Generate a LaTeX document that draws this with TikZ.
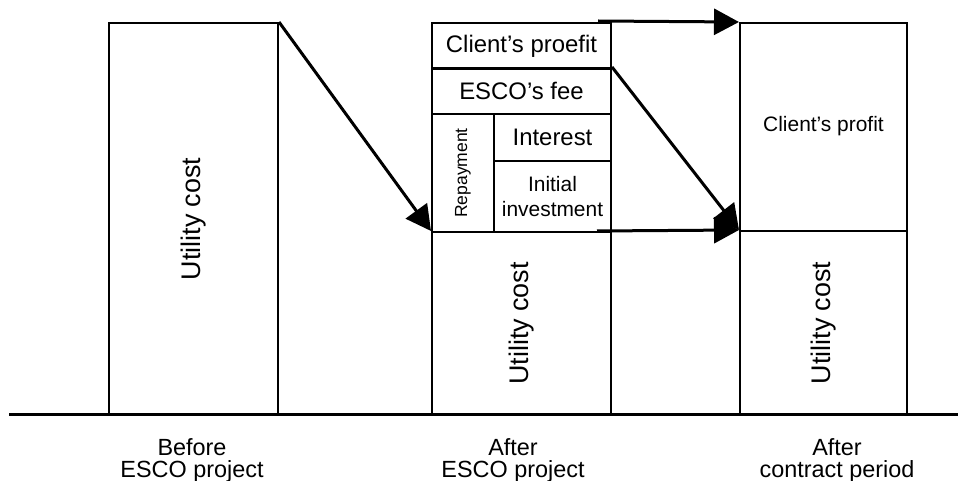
\documentclass[tikz,border=0pt]{standalone}
\usepackage{fontspec}
\setmainfont{Liberation Sans}
\usetikzlibrary{arrows.meta}
\begin{document}
\begin{tikzpicture}[x=1bp, y=-1bp,
  cell/.style={draw, line width=2bp, inner sep=0pt, anchor=north west, align=center},
  flow/.style={line width=3bp, -{Triangle[length=25bp, width=26bp]}},
  caption/.style={align=center, inner sep=0pt, font=\fontsize{23.5}{22}\selectfont},
  midtxt/.style={font=\fontsize{24}{26}\selectfont}]
\useasboundingbox (0,0) rectangle (958,481);

% before the ESCO project
\node[cell, minimum width=169bp, minimum height=392bp] (before) at (108,22)
  {\rotatebox{90}{\fontsize{27}{30}\selectfont Utility cost}};

% after the ESCO project
\node[cell, minimum width=179bp, minimum height=46bp, midtxt] (mprofit) at (431,22) {Client’s proefit};
\node[cell, minimum width=179bp, minimum height=46bp, midtxt] (mfee) at (431,67) {ESCO’s fee};
\node[cell, minimum width=62bp, minimum height=118bp] (repay) at (431,113)
  {\rotatebox{90}{\fontsize{17.6}{20}\selectfont Repayment}};
\node[cell, minimum width=117bp, minimum height=47bp, midtxt] (interest) at (493,113) {Interest};
\node[cell, minimum width=117bp, minimum height=71bp, font=\fontsize{21}{25}\selectfont] (initial) at (493,160)
  {Initial\\investment};
\node[cell, minimum width=179bp, minimum height=183bp] (mutil) at (431,231)
  {\rotatebox{90}{\fontsize{27}{30}\selectfont Utility cost}};

% after the contract period
\node[cell, minimum width=167bp, minimum height=208bp, font=\fontsize{21}{24}\selectfont] (rprofit) at (739,22)
  {\raisebox{7bp}{Client’s profit}};
\node[cell, minimum width=167bp, minimum height=184bp] (rutil) at (739,230)
  {\rotatebox{90}{\fontsize{27}{30}\selectfont Utility cost}};

% ground line
\coordinate (g0) at (9,414);
\coordinate (g1) at (958,414);
\draw[line width=3bp] (g0) -- (g1);

% flows between the stages
\coordinate (ttop) at (598,21);
\coordinate (tbot) at (597,231);
\draw[flow] (before.north east) -- (mutil.north west);
\draw[flow] (mfee.north east) -- (rutil.north west);
\draw[flow] (ttop) -- (rprofit.north west);
\draw[flow] (tbot) -- (rutil.north west);

% stage captions
\node[caption] (c1) at (192,460) {Before\\ESCO project};
\node[caption] (c2) at (513,460) {After\\ESCO project};
\node[caption] (c3) at (837,460) {After\\contract period};
\end{tikzpicture}
\end{document}
